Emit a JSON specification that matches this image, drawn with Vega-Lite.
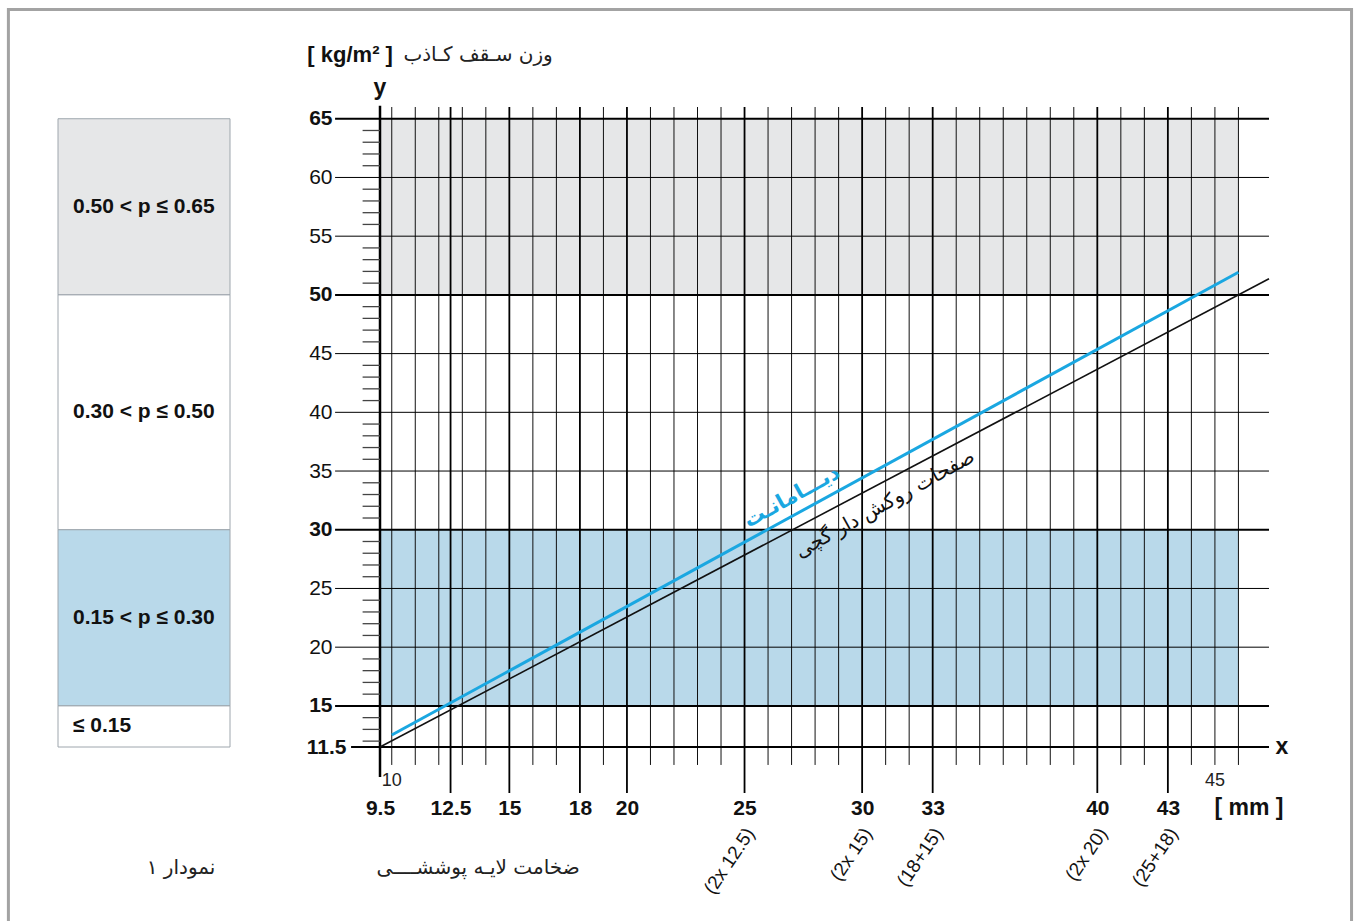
{
  "$schema": "https://vega.github.io/schema/vega-lite/v6.json",
  "autosize": "none",
  "padding": {"left": 58, "top": 107, "right": 1298, "bottom": 814},
  "bounds": "flush",
  "spacing": 150,
  "background": "white",
  "config": {
    "view": {"stroke": null},
    "axis": {"domain": false, "ticks": false, "grid": false, "labelFont": "Liberation Sans", "labelColor": "#111111"}
  },
  "datasets": {
    "legend": [
      {"lo": 50, "hi": 65, "mid": 57.5, "band": "gray", "label": "0.50 < p ≤ 0.65"},
      {"lo": 30, "hi": 50, "mid": 40, "band": "white", "label": "0.30 < p ≤ 0.50"},
      {"lo": 15, "hi": 30, "mid": 22.5, "band": "blue", "label": "0.15 < p ≤ 0.30"},
      {"lo": 11.5, "hi": 15, "mid": 13.25, "band": "white", "label": "≤  0.15"}
    ],
    "bands": [
      {"lo": 50, "hi": 65, "band": "gray"},
      {"lo": 15, "hi": 30, "band": "blue"}
    ],
    "vlines": [
      {"mm": 10, "major": false}, {"mm": 11, "major": false}, {"mm": 12, "major": false}, {"mm": 12.5, "major": true},
      {"mm": 13, "major": false}, {"mm": 14, "major": false}, {"mm": 15, "major": true}, {"mm": 16, "major": false},
      {"mm": 17, "major": false}, {"mm": 18, "major": true}, {"mm": 19, "major": false}, {"mm": 20, "major": true},
      {"mm": 21, "major": false}, {"mm": 22, "major": false}, {"mm": 23, "major": false}, {"mm": 24, "major": false},
      {"mm": 25, "major": true}, {"mm": 26, "major": false}, {"mm": 27, "major": false}, {"mm": 28, "major": false},
      {"mm": 29, "major": false}, {"mm": 30, "major": true}, {"mm": 31, "major": false}, {"mm": 32, "major": false},
      {"mm": 33, "major": true}, {"mm": 34, "major": false}, {"mm": 35, "major": false}, {"mm": 36, "major": false},
      {"mm": 37, "major": false}, {"mm": 38, "major": false}, {"mm": 39, "major": false}, {"mm": 40, "major": true},
      {"mm": 41, "major": false}, {"mm": 42, "major": false}, {"mm": 43, "major": true}, {"mm": 44, "major": false},
      {"mm": 45, "major": false}, {"mm": 46, "major": false}
    ],
    "hlines": [
      {"kg": 15, "boundary": true}, {"kg": 20, "boundary": false}, {"kg": 25, "boundary": false},
      {"kg": 30, "boundary": true}, {"kg": 35, "boundary": false}, {"kg": 40, "boundary": false},
      {"kg": 45, "boundary": false}, {"kg": 50, "boundary": true}, {"kg": 55, "boundary": false},
      {"kg": 60, "boundary": false}, {"kg": 65, "boundary": true}
    ],
    "hticks": [
      {"kg": 12}, {"kg": 13}, {"kg": 14}, {"kg": 16}, {"kg": 17}, {"kg": 18}, {"kg": 19},
      {"kg": 21}, {"kg": 22}, {"kg": 23}, {"kg": 24}, {"kg": 26}, {"kg": 27}, {"kg": 28}, {"kg": 29},
      {"kg": 31}, {"kg": 32}, {"kg": 33}, {"kg": 34}, {"kg": 36}, {"kg": 37}, {"kg": 38}, {"kg": 39},
      {"kg": 41}, {"kg": 42}, {"kg": 43}, {"kg": 44}, {"kg": 46}, {"kg": 47}, {"kg": 48}, {"kg": 49},
      {"kg": 51}, {"kg": 52}, {"kg": 53}, {"kg": 54}, {"kg": 56}, {"kg": 57}, {"kg": 58}, {"kg": 59},
      {"kg": 61}, {"kg": 62}, {"kg": 63}, {"kg": 64}
    ],
    "lines": [
      {"series": "gypsum", "mm": 9.5, "kg": 11.5},
      {"series": "gypsum", "mm": 47.3, "kg": 51.37},
      {"series": "diamant", "mm": 10, "kg": 12.52},
      {"series": "diamant", "mm": 46, "kg": 51.93}
    ],
    "lineLabels": [
      {"series": "diamant", "mm": 27.02, "kg": 32.79, "text": "دیـــامانـت"},
      {"series": "gypsum", "mm": 30.97, "kg": 32.19, "text": "صفحات روکش دار گچی"}
    ],
    "subLabels": [
      {"mm": 25, "note": "(2x 12.5)"},
      {"mm": 30, "note": "(2x 15)"},
      {"mm": 33, "note": "(18+15)"},
      {"mm": 40, "note": "(2x 20)"},
      {"mm": 43, "note": "(25+18)"}
    ],
    "notes": [
      {"role": "unitY", "mm": 10.05, "kg": 70.43, "text": "[ kg/m² ]"},
      {"role": "letter", "mm": 9.5, "kg": 67.62, "text": "y"},
      {"role": "letter", "mm": 47.85, "kg": 11.5, "text": "x"},
      {"role": "letter", "mm": 46.45, "kg": 6.31, "text": "[ mm ]"},
      {"role": "persian", "mm": 13.67, "kg": 70.43, "text": "وزن سـقف کـاذب"},
      {"role": "persian", "mm": 13.67, "kg": 1.2, "text": "ضخامت لایـه پوششــــی"},
      {"role": "minor", "mm": 10, "kg": 8.6, "text": "10"},
      {"role": "minor", "mm": 45, "kg": 8.6, "text": "45"}
    ]
  },
  "hconcat": [
    {
      "width": 172,
      "height": 640,
      "data": {"name": "legend"},
      "layer": [
        {
          "mark": {"type": "rect", "stroke": "#9ea6ad", "strokeWidth": 1},
          "encoding": {
            "y": {"field": "lo", "type": "quantitative", "scale": {"domain": [11.5, 66], "nice": false, "zero": false}, "axis": null},
            "y2": {"field": "hi"},
            "fill": {"field": "band", "type": "nominal", "scale": {"domain": ["gray", "white", "blue"], "range": ["#e6e7e8", "#ffffff", "#b9d9ea"]}, "legend": null}
          }
        },
        {
          "mark": {"type": "text", "align": "left", "baseline": "middle", "dx": -71, "font": "Liberation Sans", "fontWeight": "bold", "fontSize": 21, "color": "#111111"},
          "encoding": {
            "y": {"field": "mid", "type": "quantitative", "axis": null},
            "text": {"field": "label"}
          }
        },
        {
          "data": {"values": [{"caption": "نمودار ۱"}]},
          "mark": {"type": "text", "baseline": "middle", "dx": 37, "font": "DejaVu Sans", "fontSize": 20, "color": "#222222"},
          "encoding": {
            "y": {"datum": 1.2, "axis": null},
            "text": {"field": "caption"}
          }
        }
      ]
    },
    {
      "width": 889,
      "height": 640,
      "layer": [
        {
          "data": {"values": [{"frame": 1}]},
          "mark": {"type": "rect", "filled": false, "stroke": "#a3a3a3", "strokeWidth": 3},
          "encoding": {
            "x": {"datum": -6.3},
            "x2": {"datum": 50.81},
            "y": {"datum": 74.3},
            "y2": {"datum": -5}
          }
        },
        {
          "data": {"name": "bands"},
          "mark": {"type": "rect"},
          "encoding": {
            "x": {"datum": 9.5},
            "x2": {"datum": 46},
            "y": {"field": "lo", "type": "quantitative"},
            "y2": {"field": "hi"},
            "fill": {"field": "band", "type": "nominal", "scale": {"domain": ["gray", "blue"], "range": ["#e6e7e8", "#b9d9ea"]}, "legend": null}
          }
        },
        {
          "data": {"name": "vlines"},
          "transform": [{"filter": "!datum.major"}],
          "mark": {"type": "rule", "color": "#111111", "strokeWidth": 1},
          "encoding": {
            "x": {"field": "mm", "type": "quantitative"},
            "y": {"datum": 9.97},
            "y2": {"datum": 66}
          }
        },
        {
          "data": {"name": "vlines"},
          "transform": [{"filter": "datum.major"}],
          "mark": {"type": "rule", "color": "#000000", "strokeWidth": 1.8},
          "encoding": {
            "x": {"field": "mm", "type": "quantitative"},
            "y": {"datum": 7.58},
            "y2": {"datum": 66}
          }
        },
        {
          "data": {"values": [{"axis": "y"}]},
          "mark": {"type": "rule", "color": "#000000", "strokeWidth": 2.5},
          "encoding": {
            "x": {"datum": 9.5},
            "y": {"datum": 8.95},
            "y2": {"datum": 66.1}
          }
        },
        {
          "data": {"name": "hlines"},
          "mark": {"type": "rule", "color": "#000000"},
          "encoding": {
            "y": {"field": "kg", "type": "quantitative"},
            "x": {"datum": 7.59},
            "x2": {"datum": 47.3},
            "strokeWidth": {"condition": {"test": "datum.boundary", "value": 2}, "value": 1}
          }
        },
        {
          "data": {"values": [{"axis": "x"}]},
          "mark": {"type": "rule", "color": "#000000", "strokeWidth": 2.2},
          "encoding": {
            "y": {"datum": 11.5},
            "x": {"datum": 8.27},
            "x2": {"datum": 47.3}
          }
        },
        {
          "data": {"name": "hticks"},
          "mark": {"type": "rule", "color": "#444444", "strokeWidth": 1.3},
          "encoding": {
            "y": {"field": "kg", "type": "quantitative"},
            "x": {"datum": 8.76},
            "x2": {"datum": 9.5}
          }
        },
        {
          "data": {"name": "lines"},
          "mark": {"type": "line"},
          "encoding": {
            "x": {"field": "mm", "type": "quantitative",
              "scale": {"domain": [9.5, 47.3], "nice": false, "zero": false},
              "axis": {"title": null, "values": [9.5, 12.5, 15, 18, 20, 25, 30, 33, 40, 43], "format": ".3~g", "labelFontWeight": "bold", "labelFontSize": 21, "labelPadding": 61, "labelBaseline": "middle", "labelFlush": false, "labelOverlap": false, "labelBound": false}},
            "y": {"field": "kg", "type": "quantitative",
              "scale": {"domain": [11.5, 66], "nice": false, "zero": false},
              "axis": {"title": null, "values": [11.5, 15, 20, 25, 30, 35, 40, 45, 50, 55, 60, 65], "format": ".3~g", "labelFontSize": 21, "labelFlush": false, "labelOverlap": false, "labelBound": false,
                "labelPadding": {"condition": {"test": "datum.value == 11.5", "value": 34}, "value": 48},
                "labelFontWeight": {"condition": {"test": "indexof([11.5, 15, 30, 50, 65], datum.value) >= 0", "value": "bold"}, "value": "normal"}}},
            "color": {"field": "series", "type": "nominal", "scale": {"domain": ["diamant", "gypsum"], "range": ["#1aa7e1", "#111111"]}, "legend": null},
            "strokeWidth": {"field": "series", "type": "nominal", "scale": {"domain": ["diamant", "gypsum"], "range": [3, 1.6]}, "legend": null}
          }
        },
        {
          "data": {"name": "lineLabels"},
          "transform": [{"filter": "datum.series == 'diamant'"}],
          "mark": {"type": "text", "angle": -29, "font": "DejaVu Sans", "fontWeight": "bold", "fontSize": 21, "color": "#1aa7e1"},
          "encoding": {
            "x": {"field": "mm", "type": "quantitative"},
            "y": {"field": "kg", "type": "quantitative"},
            "text": {"field": "text"}
          }
        },
        {
          "data": {"name": "lineLabels"},
          "transform": [{"filter": "datum.series == 'gypsum'"}],
          "mark": {"type": "text", "angle": -29, "font": "DejaVu Sans", "fontSize": 20, "color": "#111111"},
          "encoding": {
            "x": {"field": "mm", "type": "quantitative"},
            "y": {"field": "kg", "type": "quantitative"},
            "text": {"field": "text"}
          }
        },
        {
          "data": {"name": "subLabels"},
          "mark": {"type": "text", "angle": -56, "align": "right", "baseline": "middle", "dx": 0, "dy": 7, "font": "Liberation Sans", "fontSize": 19, "color": "#111111"},
          "encoding": {
            "x": {"field": "mm", "type": "quantitative"},
            "y": {"datum": 4.77},
            "text": {"field": "note"}
          }
        },
        {
          "data": {"name": "notes"},
          "transform": [{"filter": "datum.role == 'unitY'"}],
          "mark": {"type": "text", "align": "right", "baseline": "middle", "font": "Liberation Sans", "fontWeight": "bold", "fontSize": 22, "color": "#111111"},
          "encoding": {
            "x": {"field": "mm", "type": "quantitative"},
            "y": {"field": "kg", "type": "quantitative"},
            "text": {"field": "text"}
          }
        },
        {
          "data": {"name": "notes"},
          "transform": [{"filter": "datum.role == 'letter'"}],
          "mark": {"type": "text", "align": "center", "baseline": "middle", "font": "Liberation Sans", "fontWeight": "bold", "fontSize": 23, "color": "#111111"},
          "encoding": {
            "x": {"field": "mm", "type": "quantitative"},
            "y": {"field": "kg", "type": "quantitative"},
            "text": {"field": "text"}
          }
        },
        {
          "data": {"name": "notes"},
          "transform": [{"filter": "datum.role == 'persian'"}],
          "mark": {"type": "text", "align": "center", "baseline": "middle", "font": "DejaVu Sans", "fontSize": 20, "color": "#222222"},
          "encoding": {
            "x": {"field": "mm", "type": "quantitative"},
            "y": {"field": "kg", "type": "quantitative"},
            "text": {"field": "text"}
          }
        },
        {
          "data": {"name": "notes"},
          "transform": [{"filter": "datum.role == 'minor'"}],
          "mark": {"type": "text", "align": "center", "baseline": "middle", "font": "Liberation Sans", "fontSize": 18, "color": "#222222"},
          "encoding": {
            "x": {"field": "mm", "type": "quantitative"},
            "y": {"field": "kg", "type": "quantitative"},
            "text": {"field": "text"}
          }
        }
      ]
    }
  ]
}
